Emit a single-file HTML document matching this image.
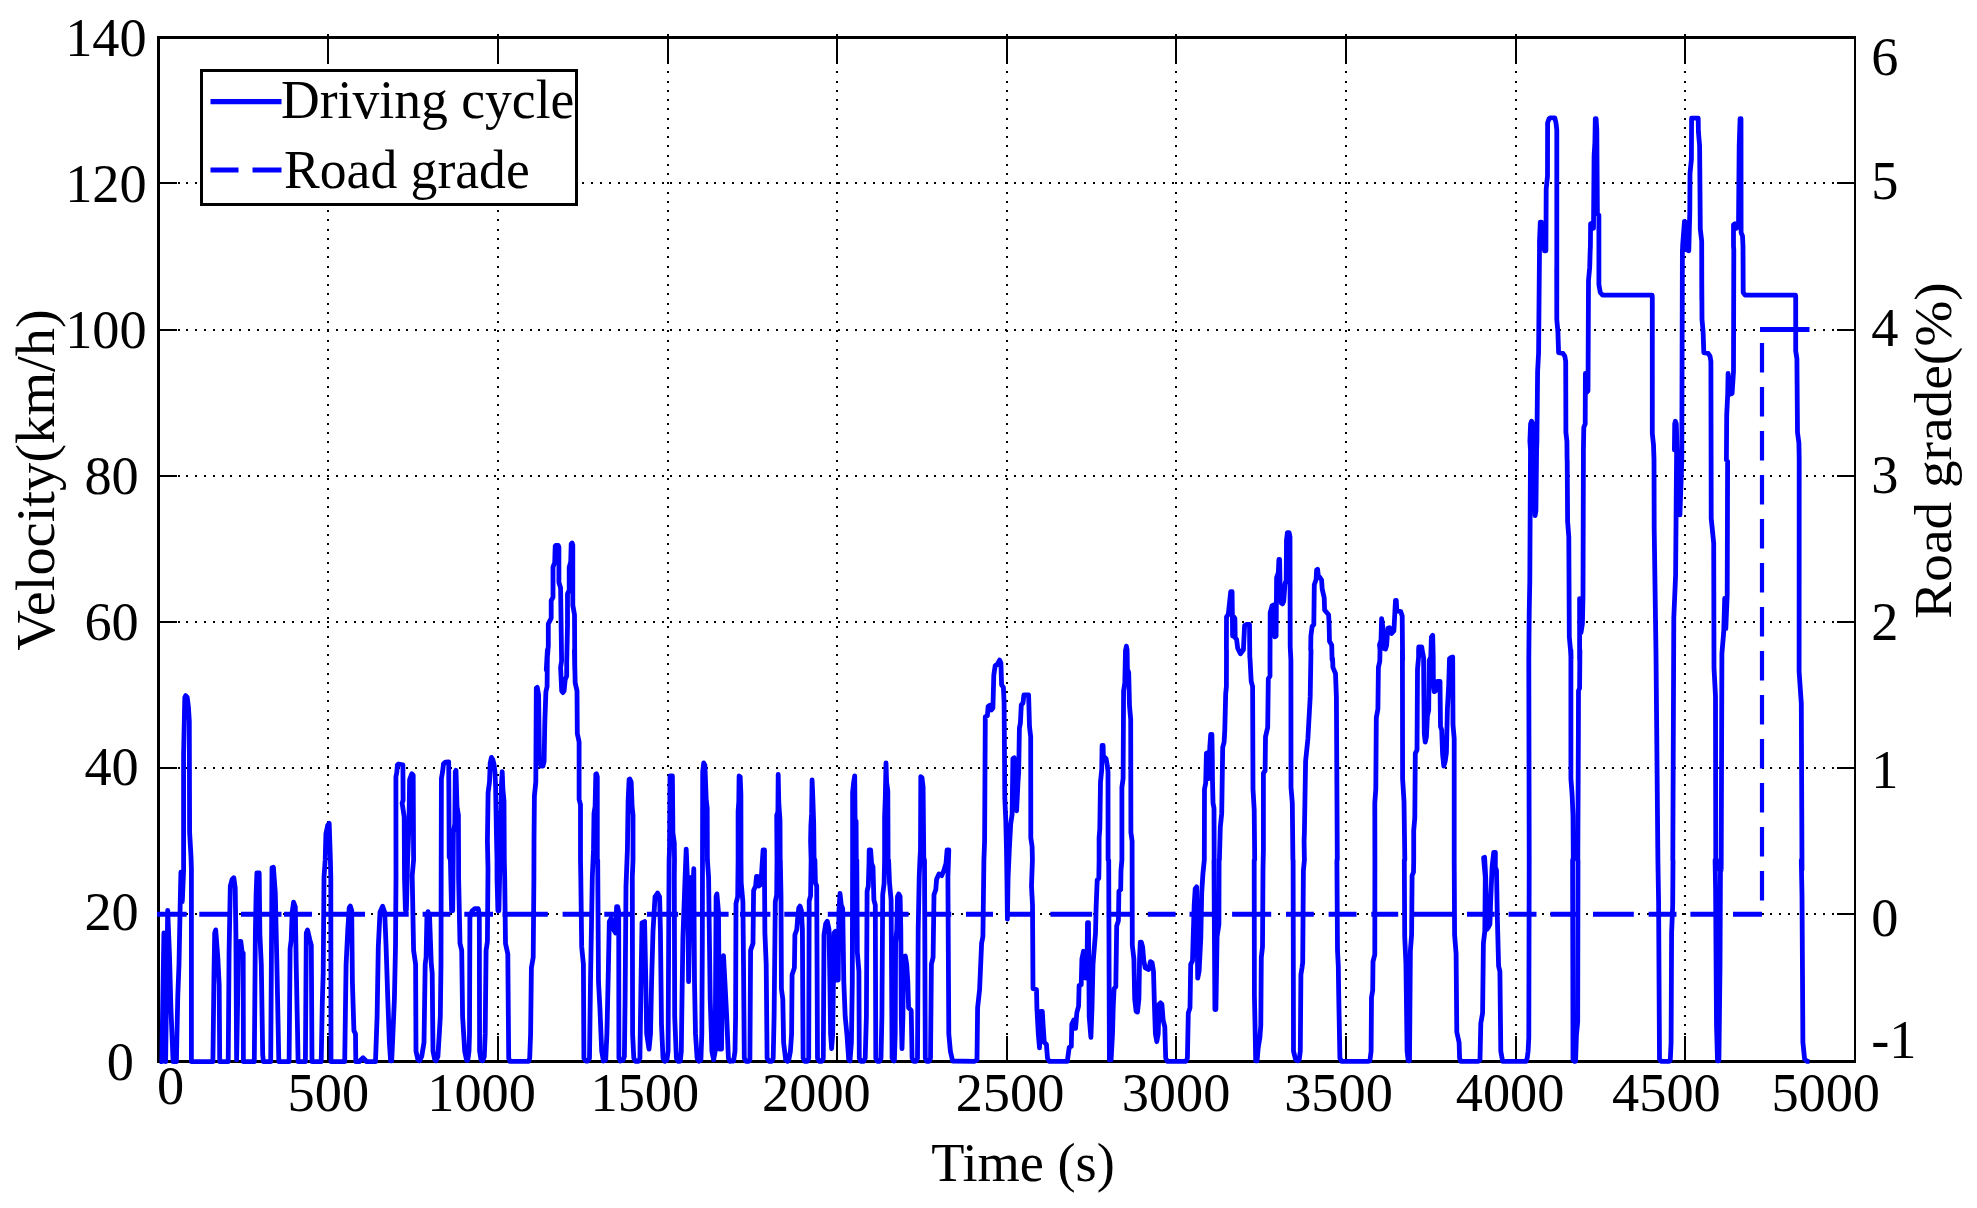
<!DOCTYPE html>
<html><head><meta charset="utf-8"><title>Driving cycle</title>
<style>html,body{margin:0;padding:0;background:#fff}svg{display:block}</style></head>
<body>
<svg width="1977" height="1208" viewBox="0 0 1977 1208">
<rect width="1977" height="1208" fill="#fff"/>
<g shape-rendering="crispEdges">
<path d="M328 34.4V1061.5M498 34.4V1061.5M668 34.4V1061.5M837 34.4V1061.5M1007 34.4V1061.5M1176 34.4V1061.5M1346 34.4V1061.5M1516 34.4V1061.5M1685 34.4V1061.5" stroke="#000" stroke-width="2" stroke-dasharray="2 7.25" fill="none"/>
<path d="M160 914H1855.0M160 768H1855.0M160 622H1855.0M160 476H1855.0M160 330H1855.0M160 183H1855.0" stroke="#000" stroke-width="2" stroke-dasharray="2 6.8" fill="none"/>
<path d="M328.0 37.5v26M328.0 1061.5v-26M498.0 37.5v26M498.0 1061.5v-26M668.0 37.5v26M668.0 1061.5v-26M837.0 37.5v26M837.0 1061.5v-26M1007.0 37.5v26M1007.0 1061.5v-26M1176.0 37.5v26M1176.0 1061.5v-26M1346.0 37.5v26M1346.0 1061.5v-26M1516.0 37.5v26M1516.0 1061.5v-26M1685.0 37.5v26M1685.0 1061.5v-26" stroke="#000" stroke-width="2.2" fill="none"/>
<path d="M158.5 914.0h18M1855.0 914.0h-18M158.5 768.0h18M1855.0 768.0h-18M158.5 622.0h18M1855.0 622.0h-18M158.5 476.0h18M1855.0 476.0h-18M158.5 330.0h18M1855.0 330.0h-18M158.5 183.0h18M1855.0 183.0h-18" stroke="#000" stroke-width="2.6" fill="none"/>
<path d="M158.5 37.5H1855.0M158.5 1061.5H1855.0" stroke="#000" stroke-width="2.6" fill="none" stroke-linecap="square"/>
<path d="M158.5 37.5V1061.5M1855.0 37.5V1061.5" stroke="#000" stroke-width="2.2" fill="none" stroke-linecap="square"/>
</g>
<path d="M157.1 914.3H186.7M199.3 914.3H228.4M241.0 914.3H281.5M284.0 914.3H311.9M324.5 914.3H365.0M378.9 914.3H408.7M422.6 914.3H450.4M464.3 914.3H493.0M502.6 914.3H547.8M562.6 914.3H591.2M604.3 914.3H633.0M646.9 914.3H678.2M685.1 914.3H728.6M740.0 914.3H770.4M784.3 914.3H817.4M827.8 914.3H866.0M869.5 914.3H908.6M925.1 914.3H951.2M966.0 914.3H993.0M1006.8 914.3H1034.7M1050.4 914.3H1092.1M1106.9 914.3H1134.0M1147.8 914.3H1175.6M1189.5 914.3H1216.5M1232.1 914.3H1271.2M1286.0 914.3H1313.8M1328.6 914.3H1356.5M1371.3 914.3H1398.2M1413.0 914.3H1453.0M1467.0 914.3H1494.7M1508.6 914.3H1536.5M1550.4 914.3H1576.4M1593.0 914.3H1633.8M1648.6 914.3H1676.5M1690.4 914.3H1719.1M1733.0 914.3H1762.0" stroke="#00f" stroke-width="5" fill="none"/>
<path d="M1762 900.5V343" stroke="#00f" stroke-width="4.2" stroke-dasharray="29.5 14.5" fill="none"/>
<path d="M1760 329.6H1809.5" stroke="#00f" stroke-width="5" fill="none"/>
<path d="M159.6 1061.7L161.8 1061.7L163.9 933.0L165.6 1061.7L167.7 910.4L169.5 955.6L170.9 1007.8L173.1 1061.7L176.4 1061.7L177.8 995.6L179.0 964.3L180.1 908.7L180.9 872.2L182.3 901.7L183.6 870.4L183.6 753.9L184.8 697.4L185.6 695.6L187.2 697.4L188.4 706.9L189.3 720.8L189.6 832.1L191.0 856.5L191.4 868.7L191.4 1061.7L212.9 1061.7L214.0 973.0L214.7 933.0L215.7 929.9L217.8 957.4L219.2 985.2L219.7 1061.7L228.2 1061.7L229.1 950.4L230.3 886.1L232.1 879.5L233.8 877.7L235.2 887.8L235.9 934.8L236.6 1059.9L238.7 941.7L240.8 941.4L242.1 951.8L243.2 953.0L243.4 1061.7L254.3 1061.7L255.4 931.3L256.1 894.8L256.9 873.0L259.2 873.0L259.9 934.8L261.3 964.3L262.7 1054.7L263.4 1061.7L270.7 1061.7L272.0 867.8L273.4 867.3L275.3 893.0L276.9 964.3L278.1 1024.3L278.8 1061.7L289.1 1061.7L290.1 948.7L291.2 940.0L292.2 912.2L293.6 902.2L295.3 906.9L296.2 964.3L297.4 1024.3L298.1 1061.7L305.4 1061.7L306.3 933.0L307.5 929.9L309.9 940.0L311.3 945.2L312.0 1061.7L321.2 1061.7L322.3 1002.6L323.2 973.0L324.0 877.4L325.2 859.9L325.9 833.9L327.7 825.2L329.2 823.4L330.3 856.5L330.8 877.4L331.0 1061.7L344.7 1061.7L346.1 964.3L347.8 929.5L349.2 907.8L350.3 906.1L351.7 910.4L352.4 981.7L353.9 1030.4L355.5 1033.9L355.8 1061.7L359.5 1061.7L360.7 1059.9L363.0 1057.8L365.2 1059.9L366.4 1061.7L375.5 1061.7L377.1 1016.5L378.3 946.9L380.0 912.2L382.6 906.2L384.7 912.2L386.1 946.9L387.8 999.1L389.4 1042.5L390.6 1060.8L391.7 1060.8L392.9 1033.9L394.4 999.1L395.5 946.9L396.0 877.4L395.9 776.9L396.8 772.4L397.4 764.8L398.4 764.0L402.9 764.8L403.1 800.3L402.1 803.0L404.2 816.9L404.5 877.4L405.4 910.1L406.4 910.1L407.6 860.0L409.0 823.9L409.6 779.5L411.8 773.8L413.2 775.2L413.6 860.0L412.2 875.6L413.6 950.4L415.6 964.3L416.0 1051.2L417.9 1059.6L419.5 1060.8L421.7 1056.5L424.0 1042.5L425.2 964.3L426.1 957.4L426.9 917.4L428.0 911.6L429.6 917.4L431.3 964.3L432.2 973.0L433.0 1051.2L434.8 1059.9L436.0 1060.8L437.9 1056.5L439.3 1033.9L440.3 1016.5L441.0 964.3L441.2 860.0L441.4 778.7L442.6 771.7L443.5 763.9L445.5 762.1L448.7 761.8L449.2 856.9L450.4 860.0L451.6 910.8L452.7 910.8L453.2 860.0L453.4 832.5L454.8 823.9L455.3 771.7L456.0 770.3L457.0 806.5L458.4 815.2L458.6 860.0L458.6 877.4L460.0 943.4L461.7 950.4L462.6 1016.5L464.7 1051.2L466.6 1060.3L467.8 1060.3L469.0 1051.2L469.5 1033.9L469.9 917.4L472.1 910.8L474.8 908.7L478.2 908.7L479.3 913.9L479.6 1051.2L481.0 1059.9L482.6 1060.8L484.3 1056.5L485.2 1033.9L486.1 950.4L487.4 941.7L488.0 868.7L487.4 841.2L488.1 792.6L489.5 782.1L490.2 763.0L491.4 757.4L492.8 759.5L494.1 764.7L494.9 771.7L495.6 785.6L496.5 837.8L497.0 860.0L497.0 877.4L497.9 910.8L498.9 910.8L499.8 868.7L500.5 837.8L501.5 783.9L502.2 771.7L502.9 789.1L504.0 801.3L504.3 860.0L504.7 877.4L505.5 943.4L507.8 953.9L508.7 1058.2L509.9 1061.3L528.7 1061.3L529.7 1058.2L530.6 1033.9L531.4 967.8L533.2 957.4L533.9 877.4L534.0 841.2L534.4 796.0L535.8 782.1L536.3 688.2L537.3 687.4L538.6 695.2L539.4 761.3L541.2 766.1L542.9 766.1L544.1 761.3L544.8 723.0L545.9 691.7L547.1 686.5L547.4 650.0L546.3 670.0L548.3 645.9L548.3 623.9L551.2 618.1L551.2 600.7L553.0 597.2L553.0 567.1L554.7 562.5L555.2 546.2L555.9 545.3L558.3 545.3L558.9 547.4L558.9 582.2L560.6 588.0L561.6 661.0L560.6 667.4L561.7 690.9L562.9 692.6L564.1 690.9L565.2 679.6L566.7 676.1L566.7 663.3L567.5 625.1L567.5 593.8L569.2 590.3L569.2 567.1L570.7 561.9L571.2 543.9L572.1 543.0L572.8 545.1L572.8 605.3L574.5 614.6L574.8 670.0L574.4 650.0L575.2 683.0L577.0 690.9L577.3 733.4L579.1 742.1L579.1 799.5L580.5 804.7L580.5 860.0L580.8 877.4L581.7 946.9L583.4 964.3L583.9 1058.2L585.7 1061.0L587.8 1061.0L589.5 1058.2L590.5 981.7L592.3 877.4L593.5 849.9L594.0 813.4L595.1 806.5L595.8 774.3L596.5 773.8L597.3 776.9L597.3 860.0L597.7 860.0L598.5 981.7L599.9 1007.8L601.7 1051.2L603.4 1061.0L605.7 1059.9L606.9 1033.9L608.4 967.8L609.3 921.7L611.2 918.2L613.5 929.5L615.6 933.0L616.6 906.6L617.7 906.6L618.7 912.2L618.9 1058.2L620.4 1061.0L622.9 1060.3L624.4 1056.5L625.1 999.1L626.0 886.1L627.4 849.9L628.1 801.3L629.1 779.5L629.8 779.0L631.2 782.1L632.1 806.5L633.0 815.2L633.0 860.0L632.3 877.4L632.6 1033.9L633.8 1058.2L635.6 1061.3L638.5 1061.3L639.9 1058.2L641.0 981.7L642.0 922.9L644.6 921.5L645.8 981.7L646.7 1033.9L649.0 1049.2L650.5 1033.9L651.6 981.7L653.0 931.3L655.0 896.9L657.6 893.0L659.6 896.9L660.4 929.5L661.5 1025.2L663.0 1058.2L664.8 1061.3L666.9 1059.9L668.1 1051.2L668.8 912.2L669.1 860.0L669.5 849.9L670.0 776.0L672.4 776.0L672.9 832.5L674.3 843.0L674.5 860.0L674.3 877.4L674.7 1016.5L676.4 1058.2L678.2 1061.3L680.3 1061.0L681.3 1051.2L682.0 999.1L682.9 938.2L685.1 877.4L686.2 849.1L687.7 886.1L688.6 981.7L690.0 912.2L691.2 877.4L692.4 903.5L693.8 868.7L694.5 981.7L695.5 1033.9L697.1 1058.2L699.0 1061.3L700.9 1059.9L701.8 1033.9L702.3 946.9L702.5 860.0L702.7 771.7L703.7 763.0L704.9 765.1L706.2 799.5L707.2 808.2L707.4 860.0L708.6 877.4L710.2 999.1L711.9 1051.2L713.6 1059.9L715.2 1051.2L716.1 896.5L716.9 893.9L718.5 912.2L719.5 1049.2L721.5 1049.2L722.7 964.3L723.5 955.6L724.9 981.7L726.7 1016.5L728.4 1058.2L730.0 1061.3L730.8 1061.0L733.6 1061.0L735.0 1051.2L735.6 1016.5L736.0 903.5L737.7 896.5L738.1 860.0L738.1 811.7L738.8 801.3L739.1 776.0L740.2 776.9L740.9 794.3L741.0 860.0L741.2 882.6L742.9 901.7L743.5 964.3L744.3 1058.2L746.1 1061.3L748.7 1061.3L749.9 1059.9L750.6 950.4L753.0 943.4L753.6 890.4L755.6 886.1L756.5 876.5L757.4 876.5L758.6 886.1L760.9 884.3L762.2 863.5L763.1 849.9L764.5 849.9L764.5 877.4L764.9 933.0L766.2 964.3L767.1 1058.2L769.2 1061.3L771.8 1061.3L773.2 1058.2L774.1 1016.5L775.3 901.7L776.7 894.8L777.0 860.0L776.7 815.2L777.9 811.7L778.2 774.5L778.8 803.0L780.0 820.4L780.2 860.0L780.3 860.0L781.0 894.8L781.4 988.7L782.8 999.1L783.6 1042.5L785.7 1059.9L787.5 1061.3L788.8 1059.9L790.4 1051.2L791.6 1033.9L792.1 974.7L794.4 967.8L794.9 934.8L796.8 929.5L797.7 917.4L798.8 907.8L800.0 906.1L801.4 910.4L802.4 929.5L803.1 1058.2L804.8 1061.3L807.4 1061.3L808.7 1058.2L809.2 900.9L810.6 895.6L811.1 860.0L810.6 841.2L810.9 825.6L811.6 813.4L812.1 780.0L812.7 794.3L813.7 823.9L814.1 860.0L814.9 860.0L815.4 882.6L816.7 886.1L817.5 1058.2L819.3 1061.3L821.9 1061.3L823.3 1058.2L824.0 934.8L825.7 923.5L827.3 921.2L829.0 929.5L829.9 981.7L830.6 1033.9L831.6 1048.6L832.7 1033.9L833.4 981.7L834.0 933.0L835.4 931.3L836.1 980.0L837.2 933.0L838.2 980.0L838.9 912.2L840.0 893.4L841.3 905.2L842.7 908.7L843.8 981.7L845.2 1016.5L846.9 1033.9L848.7 1059.9L850.0 1060.8L851.4 1042.5L852.3 981.7L852.6 860.0L852.6 792.6L853.7 782.1L854.7 775.9L855.1 820.4L856.1 821.2L856.3 860.0L856.8 860.0L857.3 952.1L858.9 971.3L859.3 1058.2L860.8 1061.3L863.6 1061.3L865.2 1058.2L866.4 1016.5L867.1 891.3L868.3 886.1L869.0 863.5L869.2 849.9L870.6 849.9L871.6 863.5L873.0 867.0L873.9 900.0L875.3 905.2L875.8 1058.2L877.3 1061.3L879.6 1061.3L881.0 1058.2L881.9 1016.5L882.7 894.8L884.1 883.5L884.6 860.0L884.6 816.9L885.3 797.8L886.0 763.0L886.6 782.1L887.8 790.8L888.1 860.0L888.6 860.0L889.5 882.6L891.1 900.0L892.1 1058.2L893.9 1061.0L894.4 1060.8L895.2 1033.9L895.6 943.4L896.8 929.5L897.5 896.5L898.7 893.9L900.1 896.5L900.8 929.5L901.3 1016.5L902.0 1048.6L902.9 1016.5L903.6 957.4L905.3 956.0L906.7 964.3L907.8 981.7L908.6 1007.8L911.2 1010.4L912.1 1058.2L913.8 1061.3L916.1 1061.3L917.5 1058.2L918.2 929.5L919.2 877.4L919.9 860.0L920.5 849.9L920.8 776.6L922.0 777.8L923.1 787.3L923.8 860.0L924.5 860.0L925.3 1058.2L926.9 1061.3L929.1 1061.3L930.5 1058.2L931.4 964.3L933.1 957.4L934.0 894.8L935.8 889.6L936.6 879.1L939.1 873.9L941.7 875.6L943.9 870.4L946.0 863.5L947.1 849.9L948.8 849.9L947.9 877.4L948.8 1033.9L950.4 1051.2L952.6 1061.0L974.7 1061.3L977.0 1059.9L977.6 1007.8L979.6 989.5L981.6 943.4L982.9 936.5L983.9 860.0L984.6 841.2L985.3 716.9L987.4 715.7L988.1 706.5L989.8 705.3L991.2 710.0L992.9 708.2L993.8 675.2L995.2 665.6L997.6 663.9L999.6 660.1L1000.9 663.0L1001.6 684.8L1003.4 687.4L1004.1 702.2L1004.8 797.8L1005.8 820.4L1006.5 849.9L1006.9 877.4L1007.4 919.1L1008.1 877.4L1009.3 849.9L1010.7 823.9L1012.1 814.3L1012.9 758.7L1014.2 757.8L1015.2 806.5L1016.6 810.8L1018.0 782.1L1018.7 771.7L1019.4 728.2L1020.4 723.0L1021.3 704.8L1023.0 703.0L1023.9 694.9L1028.6 694.9L1029.5 726.5L1030.7 736.9L1030.8 837.8L1032.1 846.5L1032.4 860.0L1031.5 886.1L1032.5 905.2L1033.0 988.7L1036.5 989.5L1036.9 1007.8L1038.3 1033.9L1039.5 1047.8L1040.9 1011.3L1042.3 1011.3L1043.1 1025.2L1044.3 1042.5L1046.4 1044.3L1047.5 1058.2L1049.2 1061.3L1067.3 1061.3L1069.2 1047.4L1071.3 1046.4L1071.8 1024.3L1073.9 1019.9L1075.6 1028.3L1076.8 1013.0L1078.6 1006.0L1079.1 985.5L1081.2 984.8L1081.9 959.1L1083.5 951.3L1084.8 952.1L1085.7 978.2L1086.9 978.2L1087.5 922.6L1088.5 922.6L1089.2 1016.5L1090.9 1037.3L1092.0 1007.8L1093.0 964.3L1094.4 946.9L1095.5 933.0L1096.1 907.8L1097.2 880.0L1098.8 878.3L1099.1 860.0L1099.1 837.8L1099.8 829.1L1100.5 782.1L1101.7 770.0L1102.1 745.3L1103.1 745.3L1103.4 756.1L1106.1 758.7L1107.3 765.6L1108.0 771.7L1108.1 860.0L1108.7 860.0L1109.4 1059.9L1111.1 1059.9L1112.5 1033.9L1113.2 1007.8L1114.1 988.7L1115.8 986.9L1116.7 926.1L1118.4 920.8L1118.9 891.3L1120.7 889.6L1121.0 870.4L1121.9 860.0L1121.9 787.3L1123.1 778.7L1123.6 690.9L1124.8 683.0L1125.5 650.0L1125.7 649.9L1126.4 646.1L1127.1 649.9L1127.4 669.1L1128.7 672.6L1129.5 705.6L1130.7 719.5L1130.9 832.5L1132.1 841.2L1132.1 860.0L1132.1 860.0L1132.3 945.2L1133.9 959.1L1134.7 999.1L1136.1 1011.3L1137.5 1012.1L1138.9 999.1L1139.6 957.4L1140.3 942.1L1141.3 942.1L1142.6 946.9L1143.8 960.8L1145.2 967.8L1148.7 969.5L1150.4 961.7L1152.1 962.6L1153.5 971.3L1154.4 1004.3L1155.4 1033.9L1156.8 1041.7L1158.2 1033.9L1159.1 1004.3L1160.5 1002.9L1161.9 1004.3L1163.1 1019.9L1164.8 1026.9L1165.7 1058.2L1167.4 1061.3L1186.0 1061.3L1187.4 1058.2L1188.3 1013.0L1190.0 1007.8L1190.7 964.3L1192.5 960.8L1193.2 936.5L1194.2 905.2L1195.2 888.7L1196.6 886.9L1197.7 978.2L1199.1 971.3L1200.8 938.2L1201.7 893.0L1202.9 873.9L1204.3 860.0L1204.5 789.1L1205.7 783.0L1206.4 753.4L1207.8 752.6L1208.6 778.7L1209.8 747.4L1210.7 734.3L1211.9 734.3L1212.3 757.8L1212.5 780.4L1213.0 803.0L1214.0 808.2L1214.2 860.0L1214.0 860.0L1214.4 934.8L1214.9 1009.5L1215.9 1009.5L1217.1 936.5L1218.9 924.3L1219.1 860.0L1219.4 860.0L1220.3 827.3L1221.7 813.4L1222.7 747.4L1224.1 742.1L1224.8 730.0L1225.7 693.5L1226.4 686.5L1226.5 650.0L1226.4 649.9L1226.5 616.9L1228.3 614.3L1229.5 603.0L1230.7 591.7L1232.1 591.7L1232.6 636.0L1233.8 616.9L1234.9 618.6L1235.2 637.8L1236.6 639.5L1237.7 648.2L1240.4 653.8L1243.4 649.9L1244.6 625.6L1246.4 624.4L1249.5 624.4L1249.8 656.9L1250.0 658.7L1251.2 681.3L1252.6 686.5L1253.0 789.1L1254.2 809.9L1254.7 860.0L1254.2 860.0L1254.4 995.6L1255.0 1023.4L1255.7 1060.8L1257.1 1060.8L1258.2 1047.8L1259.9 1037.3L1260.8 1025.2L1261.3 957.4L1262.5 946.9L1263.0 868.7L1263.4 849.9L1263.4 773.1L1265.1 770.8L1265.5 736.9L1267.7 727.4L1268.3 678.7L1270.0 676.1L1270.0 650.0L1270.0 660.0L1270.2 612.6L1272.1 605.6L1274.2 604.7L1274.9 636.9L1276.1 636.0L1276.6 577.8L1278.3 572.6L1278.9 559.5L1279.6 559.5L1280.1 585.6L1281.3 603.0L1282.5 603.9L1283.7 601.3L1285.0 583.9L1286.2 580.4L1286.5 540.4L1287.4 532.6L1289.1 532.6L1290.0 536.9L1290.2 646.5L1290.9 660.0L1290.9 660.4L1291.0 787.3L1292.3 803.0L1292.9 860.0L1293.1 860.0L1293.5 1051.2L1295.6 1059.6L1297.6 1060.8L1299.2 1059.6L1300.3 1051.2L1300.9 974.7L1302.0 967.8L1302.7 962.6L1303.4 870.4L1304.4 860.0L1304.1 841.2L1304.4 832.5L1305.6 761.3L1307.9 738.7L1310.2 696.9L1311.0 650.0L1310.7 649.9L1310.9 636.0L1312.1 626.5L1313.8 624.7L1314.3 584.7L1316.1 579.5L1316.6 570.0L1317.6 569.3L1318.3 575.2L1321.6 580.0L1322.2 589.1L1324.2 597.8L1324.6 609.9L1328.6 614.8L1329.1 623.9L1329.5 641.2L1331.7 645.1L1332.1 660.0L1332.6 658.7L1332.9 667.4L1335.5 673.5L1336.4 696.9L1337.3 860.0L1336.9 860.0L1337.5 950.4L1338.3 966.1L1338.7 993.9L1339.9 1058.2L1341.6 1061.3L1350.0 1061.3L1367.8 1061.3L1369.9 1060.8L1371.1 1051.2L1371.5 997.3L1372.7 990.4L1373.0 961.7L1374.8 954.7L1374.9 860.0L1374.8 803.0L1375.8 789.1L1376.3 717.8L1377.9 709.1L1378.4 667.4L1379.8 661.3L1380.0 650.0L1379.5 644.7L1381.0 640.4L1381.6 618.6L1382.6 625.6L1383.5 648.2L1385.5 649.1L1386.6 645.6L1387.8 628.2L1389.5 627.7L1391.6 633.4L1393.9 630.8L1394.9 611.7L1395.5 600.4L1396.3 600.4L1396.8 610.8L1400.8 611.7L1402.2 616.0L1402.6 660.0L1402.4 650.0L1402.6 778.7L1404.0 801.3L1404.8 860.0L1404.3 860.0L1404.7 936.5L1405.9 962.6L1407.1 1051.2L1408.2 1060.8L1409.5 1060.8L1410.4 950.4L1411.6 934.8L1412.1 875.6L1413.5 872.2L1413.7 860.0L1413.7 830.8L1414.8 817.8L1415.3 753.4L1417.0 750.0L1417.5 669.1L1418.6 657.0L1418.6 649.9L1418.8 646.8L1421.7 646.8L1422.6 652.5L1423.6 657.8L1423.8 684.8L1424.3 733.4L1425.2 742.1L1426.4 736.9L1427.4 716.1L1428.7 710.0L1429.2 660.4L1430.8 656.9L1431.4 636.9L1432.7 635.3L1433.2 656.9L1433.4 684.8L1434.2 691.7L1436.5 690.0L1437.4 681.3L1440.0 681.3L1440.5 726.5L1441.7 730.0L1442.6 754.3L1443.8 766.1L1445.2 761.3L1446.4 752.6L1447.4 709.1L1448.7 684.8L1449.5 658.7L1451.3 657.3L1452.7 657.0L1453.0 724.8L1454.2 738.7L1454.2 860.0L1454.2 860.0L1454.6 934.8L1456.1 953.9L1456.8 1032.1L1459.1 1042.5L1459.6 1058.2L1460.8 1061.3L1478.2 1061.3L1480.0 1059.9L1480.8 1023.4L1482.6 1013.0L1483.4 943.4L1484.8 931.3L1485.3 877.4L1483.6 857.8L1484.6 857.2L1485.7 877.4L1486.9 929.5L1488.6 926.9L1489.9 924.3L1490.7 900.0L1492.1 867.0L1493.7 852.5L1495.4 852.5L1495.3 867.0L1496.5 870.4L1497.3 915.6L1498.6 966.1L1499.9 971.3L1500.8 1051.2L1502.6 1061.3L1526.0 1061.3L1527.2 1058.2L1528.1 1051.2L1528.8 1037.3L1529.2 860.0L1528.8 660.0L1529.2 613.4L1529.8 580.4L1530.5 450.0L1529.9 441.2L1530.6 423.9L1531.6 421.2L1532.7 423.9L1533.4 449.9L1534.0 467.4L1535.1 515.7L1535.9 510.8L1536.6 450.0L1536.9 441.2L1537.6 371.7L1538.6 352.6L1539.5 250.0L1539.5 241.3L1540.3 222.1L1541.4 222.1L1542.2 248.2L1543.5 225.6L1544.5 250.8L1545.9 250.8L1546.2 189.1L1547.5 176.1L1547.6 123.0L1549.0 118.7L1550.4 117.8L1554.8 117.8L1556.0 123.0L1556.8 130.0L1556.8 300.0L1556.7 267.4L1556.8 319.5L1557.9 331.7L1558.6 352.6L1562.9 353.4L1564.8 356.1L1565.7 361.3L1565.9 432.5L1566.9 441.2L1567.1 460.0L1567.2 460.4L1567.6 521.3L1568.8 536.9L1569.3 636.9L1570.5 649.9L1571.1 660.0L1570.9 650.0L1570.9 778.7L1572.1 794.3L1573.0 815.2L1573.3 860.0L1572.6 860.0L1573.0 1059.9L1574.2 1061.3L1575.6 1061.3L1576.4 1035.6L1577.7 1021.7L1578.0 860.0L1577.8 860.0L1578.4 730.0L1578.5 690.9L1579.6 688.2L1579.9 650.0L1579.6 660.0L1579.6 598.6L1581.0 632.5L1582.4 623.9L1583.0 596.0L1583.4 460.4L1583.4 449.9L1583.8 427.3L1585.2 423.9L1585.4 373.4L1586.4 392.6L1588.0 390.8L1588.5 280.4L1589.7 267.4L1590.2 250.0L1590.4 246.5L1590.6 223.9L1592.1 223.0L1593.5 228.2L1594.1 156.1L1594.9 142.2L1595.3 118.7L1596.1 118.7L1596.8 130.0L1597.4 213.4L1598.9 215.2L1598.9 284.7L1600.3 292.5L1602.6 295.1L1652.1 295.1L1652.3 296.9L1652.3 433.4L1653.5 444.7L1654.0 460.0L1654.2 529.0L1656.0 653.6L1657.8 849.4L1657.9 860.0L1658.6 901.7L1659.5 1059.1L1660.9 1061.3L1669.2 1061.3L1670.3 1059.9L1671.1 1042.5L1671.6 933.0L1672.7 905.2L1673.0 860.0L1672.8 860.1L1673.8 618.0L1675.6 575.3L1676.7 440.0L1674.4 449.9L1674.7 423.9L1675.4 421.2L1676.3 423.9L1677.0 449.9L1678.1 475.6L1679.9 514.8L1681.3 475.6L1681.8 460.0L1682.4 250.0L1682.5 249.9L1682.7 244.7L1683.9 229.1L1684.5 221.3L1685.5 222.1L1686.4 249.9L1687.6 229.1L1688.8 250.8L1689.8 211.7L1690.0 173.4L1691.4 159.5L1691.6 118.2L1698.2 118.2L1698.4 131.7L1699.6 145.6L1700.3 229.1L1701.7 241.3L1701.8 300.0L1701.7 267.4L1702.0 319.5L1703.1 331.7L1703.8 352.6L1708.1 353.4L1710.0 356.1L1710.9 361.3L1711.1 460.0L1711.2 518.3L1713.7 543.2L1714.0 667.8L1715.5 696.3L1715.8 870.0L1715.1 860.0L1715.6 889.6L1716.5 1025.2L1717.5 1060.8L1718.9 1060.8L1720.0 966.1L1720.5 860.0L1721.2 870.0L1721.9 653.6L1723.7 632.2L1724.7 598.4L1725.8 628.7L1727.2 594.9L1727.6 461.4L1726.4 460.0L1726.7 415.2L1727.7 394.3L1728.1 373.4L1729.8 394.3L1732.1 393.4L1733.5 371.7L1733.8 250.0L1733.5 246.5L1733.5 224.7L1734.7 223.9L1736.4 228.2L1738.5 225.6L1739.2 145.6L1740.1 118.7L1741.0 118.7L1741.1 232.6L1742.5 236.0L1743.0 246.5L1743.2 292.5L1745.1 295.1L1795.5 295.1L1795.7 296.9L1795.7 350.8L1796.9 358.7L1797.5 432.5L1798.9 443.0L1799.2 460.0L1799.1 671.4L1801.3 703.4L1802.0 870.0L1801.3 860.0L1802.0 894.8L1802.9 1042.5L1804.6 1059.1L1806.9 1061.3L1809.5 1061.3" stroke="#00f" stroke-width="4.8" fill="none" stroke-linejoin="round"/>
<rect x="201.3" y="70.3" width="375.3" height="134" fill="#fff" stroke="#000" stroke-width="2.5" shape-rendering="crispEdges"/>
<path d="M210.5 101.6H281.5" stroke="#00f" stroke-width="5.2"/>
<path d="M210.5 170H238.5M252.5 170H281.5" stroke="#00f" stroke-width="5.2"/>
<g font-family="'Liberation Serif', 'Times New Roman', serif" font-size="53" fill="#000">
<text transform="translate(281,117.6) scale(1.012,1.034)" text-anchor="start">Driving cycle</text>
<text transform="translate(284,188) scale(1.012,1.034)" text-anchor="start">Road grade</text>
<text transform="translate(146.6,55.8) scale(1.025,1.034)" text-anchor="end">140</text>
<text transform="translate(146.6,201.7) scale(1.025,1.034)" text-anchor="end">120</text>
<text transform="translate(146.6,348.1) scale(1.025,1.034)" text-anchor="end">100</text>
<text transform="translate(138.7,493.9) scale(1.025,1.034)" text-anchor="end">80</text>
<text transform="translate(138.7,640.2) scale(1.025,1.034)" text-anchor="end">60</text>
<text transform="translate(138.7,785.4) scale(1.025,1.034)" text-anchor="end">40</text>
<text transform="translate(138.7,930.2) scale(1.025,1.034)" text-anchor="end">20</text>
<text transform="translate(133.8,1080) scale(1.025,1.034)" text-anchor="end">0</text>
<text transform="translate(170.5,1104.1) scale(1.025,1.034)" text-anchor="middle">0</text>
<text transform="translate(328.3,1111.3) scale(1.025,1.034)" text-anchor="middle">500</text>
<text transform="translate(481.6,1111.3) scale(1.025,1.034)" text-anchor="middle">1000</text>
<text transform="translate(644.8000000000001,1111.3) scale(1.025,1.034)" text-anchor="middle">1500</text>
<text transform="translate(816.4,1111.3) scale(1.025,1.034)" text-anchor="middle">2000</text>
<text transform="translate(1010,1111.3) scale(1.025,1.034)" text-anchor="middle">2500</text>
<text transform="translate(1176,1111.3) scale(1.025,1.034)" text-anchor="middle">3000</text>
<text transform="translate(1338.5,1111.3) scale(1.025,1.034)" text-anchor="middle">3500</text>
<text transform="translate(1510.1,1111.3) scale(1.025,1.034)" text-anchor="middle">4000</text>
<text transform="translate(1666.4,1111.3) scale(1.025,1.034)" text-anchor="middle">4500</text>
<text transform="translate(1825.7,1111.3) scale(1.025,1.034)" text-anchor="middle">5000</text>
<text transform="translate(1871.2,75.3) scale(1.025,1.034)" text-anchor="start">6</text>
<text transform="translate(1871.2,198.6) scale(1.025,1.034)" text-anchor="start">5</text>
<text transform="translate(1871.2,346.3) scale(1.025,1.034)" text-anchor="start">4</text>
<text transform="translate(1871.2,493) scale(1.025,1.034)" text-anchor="start">3</text>
<text transform="translate(1871.2,640.2) scale(1.025,1.034)" text-anchor="start">2</text>
<text transform="translate(1871.2,788.3) scale(1.025,1.034)" text-anchor="start">1</text>
<text transform="translate(1871.2,936.4) scale(1.025,1.034)" text-anchor="start">0</text>
<text transform="translate(1871.2,1057.5) scale(1.025,1.034)" text-anchor="start">-1</text>
<text transform="translate(1023,1181.3) scale(1.025,1.034)" text-anchor="middle">Time (s)</text>
<text transform="translate(53.6,480) rotate(-90) scale(1.065,1.025)" text-anchor="middle">Velocity(km/h)</text>
<text transform="translate(1950.6,450.5) rotate(-90) scale(1.044,1.0)" text-anchor="middle">Road grade(%)</text>
</g>
</svg>
</body></html>
